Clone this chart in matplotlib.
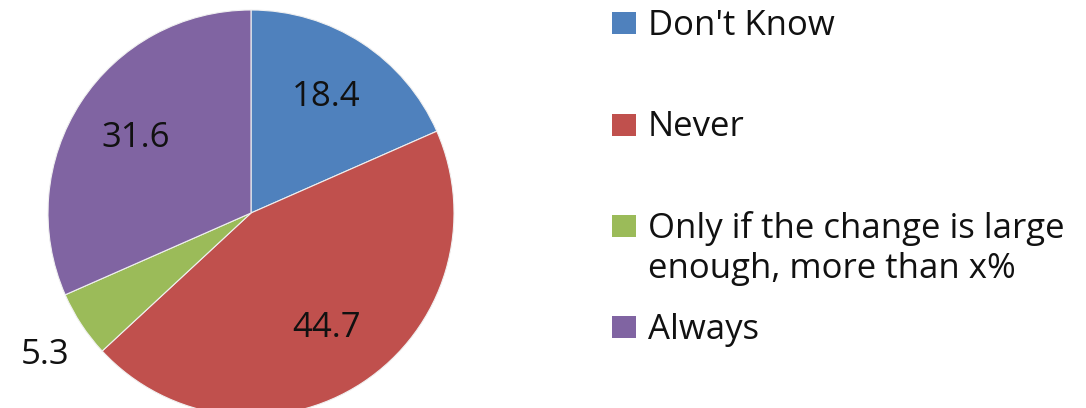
import matplotlib
matplotlib.use("Agg")
import matplotlib.pyplot as plt
from matplotlib.patches import Rectangle

# data
labels = ["Don't Know", "Never",
          "Only if the change is large\nenough, more than x%", "Always"]
values = [18.4, 44.7, 5.3, 31.6]
colors = ["#4F81BD", "#C0504D", "#9BBB59", "#8064A2"]

# layout (pixel coordinates, y measured from top)
W, H = 1086, 408
legend_y = [23, 124.5, 226, 327]
LINE_PX = 40
FONT = "Open Sans"
FS = 25


def main():
    fig = plt.figure(figsize=(W / 100, H / 100), dpi=100)
    ax = fig.add_axes([0, 0, 1, 1])

    # pie drawn with flipped y: counterclock=True gives clockwise on screen
    wedges, texts, autotexts = ax.pie(
        values, colors=colors, startangle=-90, counterclock=True,
        center=(251, 213), radius=203, frame=True,
        autopct=lambda p: "{:.1f}".format(p), pctdistance=0.68,
        wedgeprops=dict(edgecolor="#f0f0f0", linewidth=0.8),
        textprops=dict(fontsize=FS, family=FONT, color="#111111"))
    ax.set_xlim(0, W)
    ax.set_ylim(H, 0)
    ax.set_aspect("equal")
    ax.axis("off")

    # small slice label sits outside the pie
    small = values.index(min(values))
    x0, y0 = autotexts[small].get_position()
    cx, cy = 251, 213
    k = 1.24 / 0.68
    autotexts[small].set_position((cx + (x0 - cx) * k + 4,
                                   cy + (y0 - cy) * k + 4))

    # legend drawn by hand to mimic the uneven spacing
    for lab, col, y in zip(labels, colors, legend_y):
        ax.add_patch(Rectangle((612, y - 11), 24, 22, facecolor=col,
                               edgecolor="none"))
        for i, line in enumerate(lab.split("\n")):
            ax.text(648, y + 12 + i * LINE_PX, line, fontsize=FS,
                    family=FONT, color="#111111", va="baseline")

    fig.savefig("out.png", dpi=100)


if __name__ == "__main__":
    main()
